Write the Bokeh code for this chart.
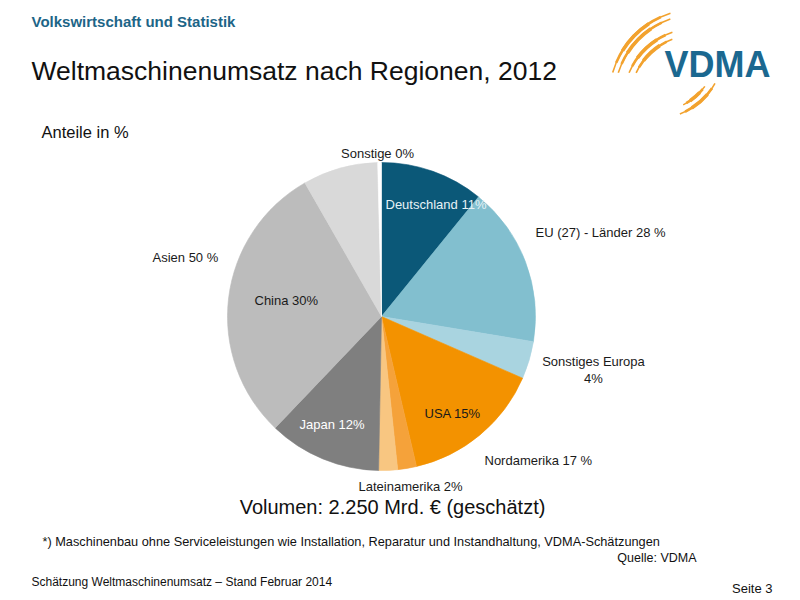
import math
from bokeh.plotting import figure
from bokeh.models import Range1d, ColumnDataSource, Label
from bokeh.embed import file_html
from bokeh.resources import INLINE

# --- data: world machinery turnover by region, 2012 (shares in %) ---
segments = ["Deutschland", "EU (27) ohne Deutschland", "Sonstiges Europa", "USA",
            "Nordamerika ohne USA", "Lateinamerika", "Japan", "China",
            "Asien ohne Japan/China", "Sonstige"]
shares = [11, 17, 4, 15, 2, 2, 12, 30, 8, 0.4]
colors = ["#0B5878", "#82BFCF", "#A9D4E0", "#F39200", "#F5A23A", "#F8C681",
          "#7F7F7F", "#BCBCBC", "#D9D9D9", "#FFFFFF"]

# group totals shown in the outer labels
eu27_total = 28
nordamerika_total = 17
asien_total = 50

FONT = "Liberation Sans"
W, H = 800, 600


def Y(py):
    """Convert a top-down page coordinate to the plot's upward y axis."""
    return H - py


p = figure(width=W, height=H, x_range=Range1d(0, W), y_range=Range1d(0, H),
           min_border=0, outline_line_color=None, toolbar_location=None,
           output_backend="svg", x_axis_type=None, y_axis_type=None,
           background_fill_color="white", border_fill_color="white")
p.grid.visible = False

# --- pie, clockwise from 12 o'clock ---
cx, cy, R = 381, Y(316), 154
total = sum(shares)
starts, ends = [], []
acc = 0.0
for s in shares:
    starts.append(math.pi / 2 - 2 * math.pi * acc / total)
    acc += s
    ends.append(math.pi / 2 - 2 * math.pi * acc / total)

src = ColumnDataSource(dict(seg=segments, share=shares, color=colors,
                            start=starts, end=ends))
p.wedge(x=cx, y=cy, radius=R, start_angle="start", end_angle="end",
        direction="clock", fill_color="color", line_color="color",
        line_width=0.6, source=src)


def label(x, py, text, size="13px", color="#1A1A1A", align="left",
          bold=False):
    p.add_layout(Label(x=x, y=Y(py), text=text, text_font=FONT,
                       text_font_size=size, text_color=color,
                       text_align=align, text_baseline="middle",
                       text_font_style="bold" if bold else "normal"))


# slice labels
label(377, 153, f"Sonstige {int(shares[9])}%", align="center")
label(385, 204, f"Deutschland  {shares[0]}%", color="#E6F2F6")
label(535, 232, f"EU (27) - Länder {eu27_total} %")
label(152, 257, f"Asien  {asien_total} %")
label(254, 300, f"China {shares[7]}%")
label(593, 361, "Sonstiges Europa", align="center")
label(593, 378, f"{shares[2]}%", align="center")
label(424, 413, f"USA {shares[3]}%")
label(299, 424, f"Japan {shares[6]}%", color="#FFFFFF")
label(484, 460, f"Nordamerika {nordamerika_total} %")
label(358, 486, f"Lateinamerika {shares[5]}%")

# headings and notes
label(31, 21, "Volkswirtschaft und Statistik", size="15px", color="#1D6587",
      bold=True)
label(31, 70, "Weltmaschinenumsatz nach Regionen, 2012", size="26.5px",
      color="#111111")
label(41, 131, "Anteile in %", size="16.5px", color="#111111")
label(392, 506, "Volumen: 2.250 Mrd. € (geschätzt)", size="20px",
      color="#111111", align="center")
label(42, 541, "*) Maschinenbau ohne Serviceleistungen  wie Installation, "
      "Reparatur und Instandhaltung, VDMA-Schätzungen", size="12.75px",
      color="#111111")
label(696, 557, "Quelle: VDMA", size="12.5px", color="#111111", align="right")
label(31, 581, "Schätzung Weltmaschinenumsatz – Stand Februar 2014",
      size="12px", color="#111111")
label(772, 588, "Seite 3", size="13px", color="#111111", align="right")

# --- logo: orange swooshes (thin full stroke + thicker middle) ---
arc_cx = [697, 697, 695, 695, 655, 655]
arc_cy = [Y(97), Y(97), Y(100), Y(100), Y(50), Y(50)]
arc_r = [88.4, 83, 72, 65.5, 68, 61]
arc_a0 = [107.8, 109.1, 108.7, 110.7, -69, -63]
arc_a1 = [163.6, 162.6, 157.3, 155.0, -29, -36]
SWOOSH = "#F2A22E"
p.arc(x=arc_cx, y=arc_cy, radius=arc_r,
      start_angle=[math.radians(a) for a in arc_a0],
      end_angle=[math.radians(a) for a in arc_a1],
      direction="anticlock", line_color=SWOOSH, line_width=1.6)
for frac, lw in [(0.12, 2.6), (0.28, 3.6)]:
    p.arc(x=arc_cx, y=arc_cy, radius=arc_r,
          start_angle=[math.radians(a0 + frac * (a1 - a0))
                       for a0, a1 in zip(arc_a0, arc_a1)],
          end_angle=[math.radians(a1 - frac * (a1 - a0))
                     for a0, a1 in zip(arc_a0, arc_a1)],
          direction="anticlock", line_color=SWOOSH, line_width=lw)
label(664, 64, "VDMA", size="36px", color="#1B6890", bold=True)

open("out.html", "w").write(file_html(p, INLINE))
